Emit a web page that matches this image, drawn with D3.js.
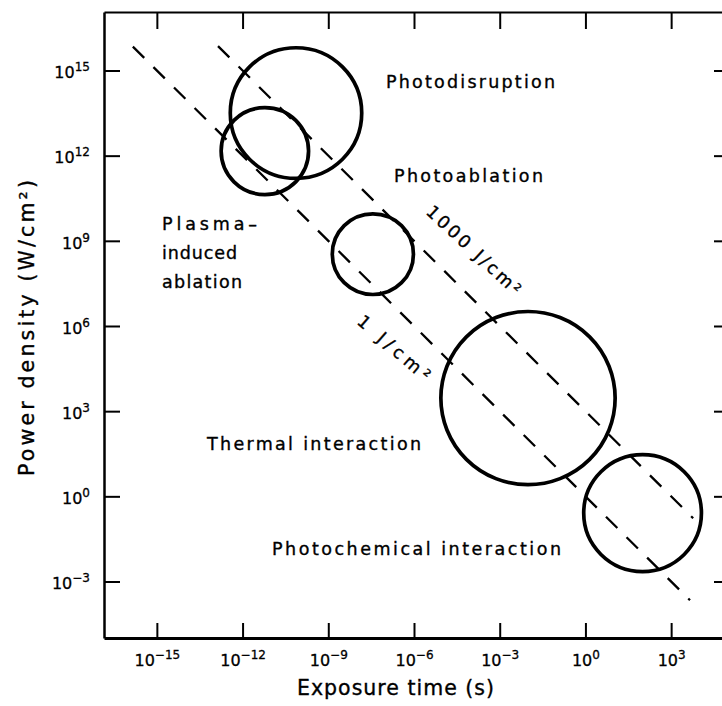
<!DOCTYPE html>
<html>
<head>
<meta charset="utf-8">
<script src="https://cdn.jsdelivr.net/npm/d3@7"></script>
<style>
  body { margin: 0; background: #fff; }
  svg { display: block; }
</style>
</head>
<body>
<div id="chart"></div>
<script>
// tick exponents (powers of ten)
var xTickExp = [-15, -12, -9, -6, -3, 0, 3];
var yTickExp = [15, 12, 9, 6, 3, 0, -3];

// interaction regions: centre (log10 s, log10 W/cm2) and radius in decades
var regionNames = ["Photodisruption", "Plasma-induced ablation", "Photoablation", "Thermal interaction", "Photochemical interaction"];
var regionTimeExp = [-10.13, -11.22, -7.44, -2.01, 2.0];
var regionPowerExp = [13.5, 12.16, 8.53, 3.46, -0.59];
var regionRadius = [2.3, 1.53, 1.42, 3.05, 2.06];

// constant fluence lines
var fluences = [1, 1000];
var fluenceLabels = ["1 J/cm\u00b2", "1000 J/cm\u00b2"];
var fluenceTimeStart = [-15.84, -12.86];
var fluenceTimeEnd = [3.66, 3.77];

window.onload = () => {

  var margin = { top: 12, right: -2, bottom: 68, left: 104 },
    width = 722 - margin.left - margin.right,
    height = 706 - margin.top - margin.bottom;

  var svg = d3.select("#chart")
    .append("svg")
    .attr("width", 722)
    .attr("height", 706)
    .style("background", "#fff")
    .append("g")
    .attr("transform", "translate(" + margin.left + "," + margin.top + ")");

  var font = "DejaVu Sans, Verdana, sans-serif";

  var x = d3.scaleLog()
    .domain([Math.pow(10, -16.85), Math.pow(10, 4.85)])
    .range([0, width]);
  var y = d3.scaleLog()
    .domain([Math.pow(10, -4.99), Math.pow(10, 17.06)])
    .range([height, 0]);

  var xTicks = xTickExp.map(function (e) { return Math.pow(10, e); });
  var yTicks = yTickExp.map(function (e) { return Math.pow(10, e); });

  // superscript labels 10^n
  function powLabels(sel) {
    sel.selectAll(".tick text").each(function (d) {
      var e = Math.round(Math.log10(d));
      var t = d3.select(this).text(null);
      t.append("tspan").text("10");
      t.append("tspan").attr("dy", -7).attr("font-size", 12)
        .text(String(e).replace("-", "\u2212"));
    });
  }

  // bottom axis
  var gx = svg.append("g")
    .attr("transform", "translate(0," + height + ")")
    .call(d3.axisBottom(x).tickValues(xTicks).tickSize(-15).tickSizeOuter(0).tickPadding(17))
    .call(powLabels);
  gx.select(".domain").attr("stroke-width", 3);

  // left axis
  var gy = svg.append("g")
    .call(d3.axisLeft(y).tickValues(yTicks).tickSize(-16).tickSizeOuter(0).tickPadding(14))
    .call(powLabels);
  gy.selectAll(".tick text").attr("dy", "0.45em");
  gy.select(".domain").attr("stroke-width", 2.5);

  // top and right frame
  var gt = svg.append("g")
    .call(d3.axisTop(x).tickValues(xTicks).tickSize(-17).tickSizeOuter(0).tickFormat(""));
  gt.select(".domain").attr("stroke-width", 2);
  var gr = svg.append("g")
    .attr("transform", "translate(" + width + ",0)")
    .call(d3.axisRight(y).tickValues(yTicks).tickSize(-10).tickSizeOuter(0).tickFormat(""));
  gr.select(".domain").attr("stroke-width", 2);

  svg.selectAll(".tick line").attr("stroke-width", 2);
  svg.selectAll(".tick text")
    .attr("font-family", font).attr("font-size", 16).attr("fill", "#000")
    .attr("stroke", "#000").attr("stroke-width", 0.3);

  // fluence lines
  var line = d3.line()
    .x(function (d) { return x(d[0]); })
    .y(function (d) { return y(d[1]); });
  fluences.forEach(function (f, i) {
    var t0 = Math.pow(10, fluenceTimeStart[i]), t1 = Math.pow(10, fluenceTimeEnd[i]);
    svg.append("path")
      .attr("d", line([[t0, f / t0], [t1, f / t1]]))
      .attr("fill", "none")
      .attr("stroke", "#000")
      .attr("stroke-width", 2.3)
      .attr("stroke-dasharray", "16,13");
  });

  // region circles
  regionNames.forEach(function (name, i) {
    var cx = x(Math.pow(10, regionTimeExp[i]));
    var cy = y(Math.pow(10, regionPowerExp[i]));
    var rx = x(Math.pow(10, regionTimeExp[i] + regionRadius[i])) - cx;
    var ry = y(Math.pow(10, regionPowerExp[i] - regionRadius[i])) - cy;
    svg.append("ellipse")
      .attr("cx", cx).attr("cy", cy)
      .attr("rx", rx).attr("ry", ry)
      .attr("fill", "none")
      .attr("stroke", "#000")
      .attr("stroke-width", 3.7);
  });

  // region labels (page coordinates)
  var labels = [
    { text: "Photodisruption", x: 386, y: 88, w: 169 },
    { text: "Photoablation", x: 394, y: 182, w: 149 },
    { text: "Plasma\u2013", x: 162, y: 230, w: 95 },
    { text: "induced", x: 162, y: 259, w: 75 },
    { text: "ablation", x: 162, y: 288, w: 80 },
    { text: "Thermal interaction", x: 207, y: 450, w: 214 },
    { text: "Photochemical interaction", x: 272, y: 555, w: 289 }
  ];
  var top = d3.select("#chart svg");
  labels.forEach(function (l) {
    top.append("text")
      .attr("x", l.x).attr("y", l.y)
      .attr("font-family", font).attr("font-size", 17.5)
      .attr("stroke", "#000").attr("stroke-width", 0.35)
      .attr("textLength", l.w).attr("lengthAdjust", "spacing")
      .text(l.text);
  });

  // fluence labels, rotated along the lines
  var fl = [
    { x: 356, y: 323, a: 41, w: 90 },
    { x: 425, y: 213, a: 43, w: 122 }
  ];
  fluenceLabels.forEach(function (s, i) {
    top.append("text")
      .attr("transform", "translate(" + fl[i].x + "," + fl[i].y + ") rotate(" + fl[i].a + ")")
      .attr("font-family", font).attr("font-size", 17.5)
      .attr("stroke", "#000").attr("stroke-width", 0.35)
      .attr("textLength", fl[i].w).attr("lengthAdjust", "spacing")
      .text(s);
  });

  // axis titles
  top.append("text")
    .attr("x", 297).attr("y", 695)
    .attr("font-family", font).attr("font-size", 20.5)
    .attr("stroke", "#000").attr("stroke-width", 0.35)
    .attr("textLength", 197).attr("lengthAdjust", "spacing")
    .text("Exposure time (s)");

  top.append("text")
    .attr("transform", "translate(34,476) rotate(-90)")
    .attr("font-family", font).attr("font-size", 20.5)
    .attr("stroke", "#000").attr("stroke-width", 0.35)
    .attr("textLength", 296).attr("lengthAdjust", "spacing")
    .text("Power density (W/cm\u00b2)");
};
</script>
</body>
</html>
